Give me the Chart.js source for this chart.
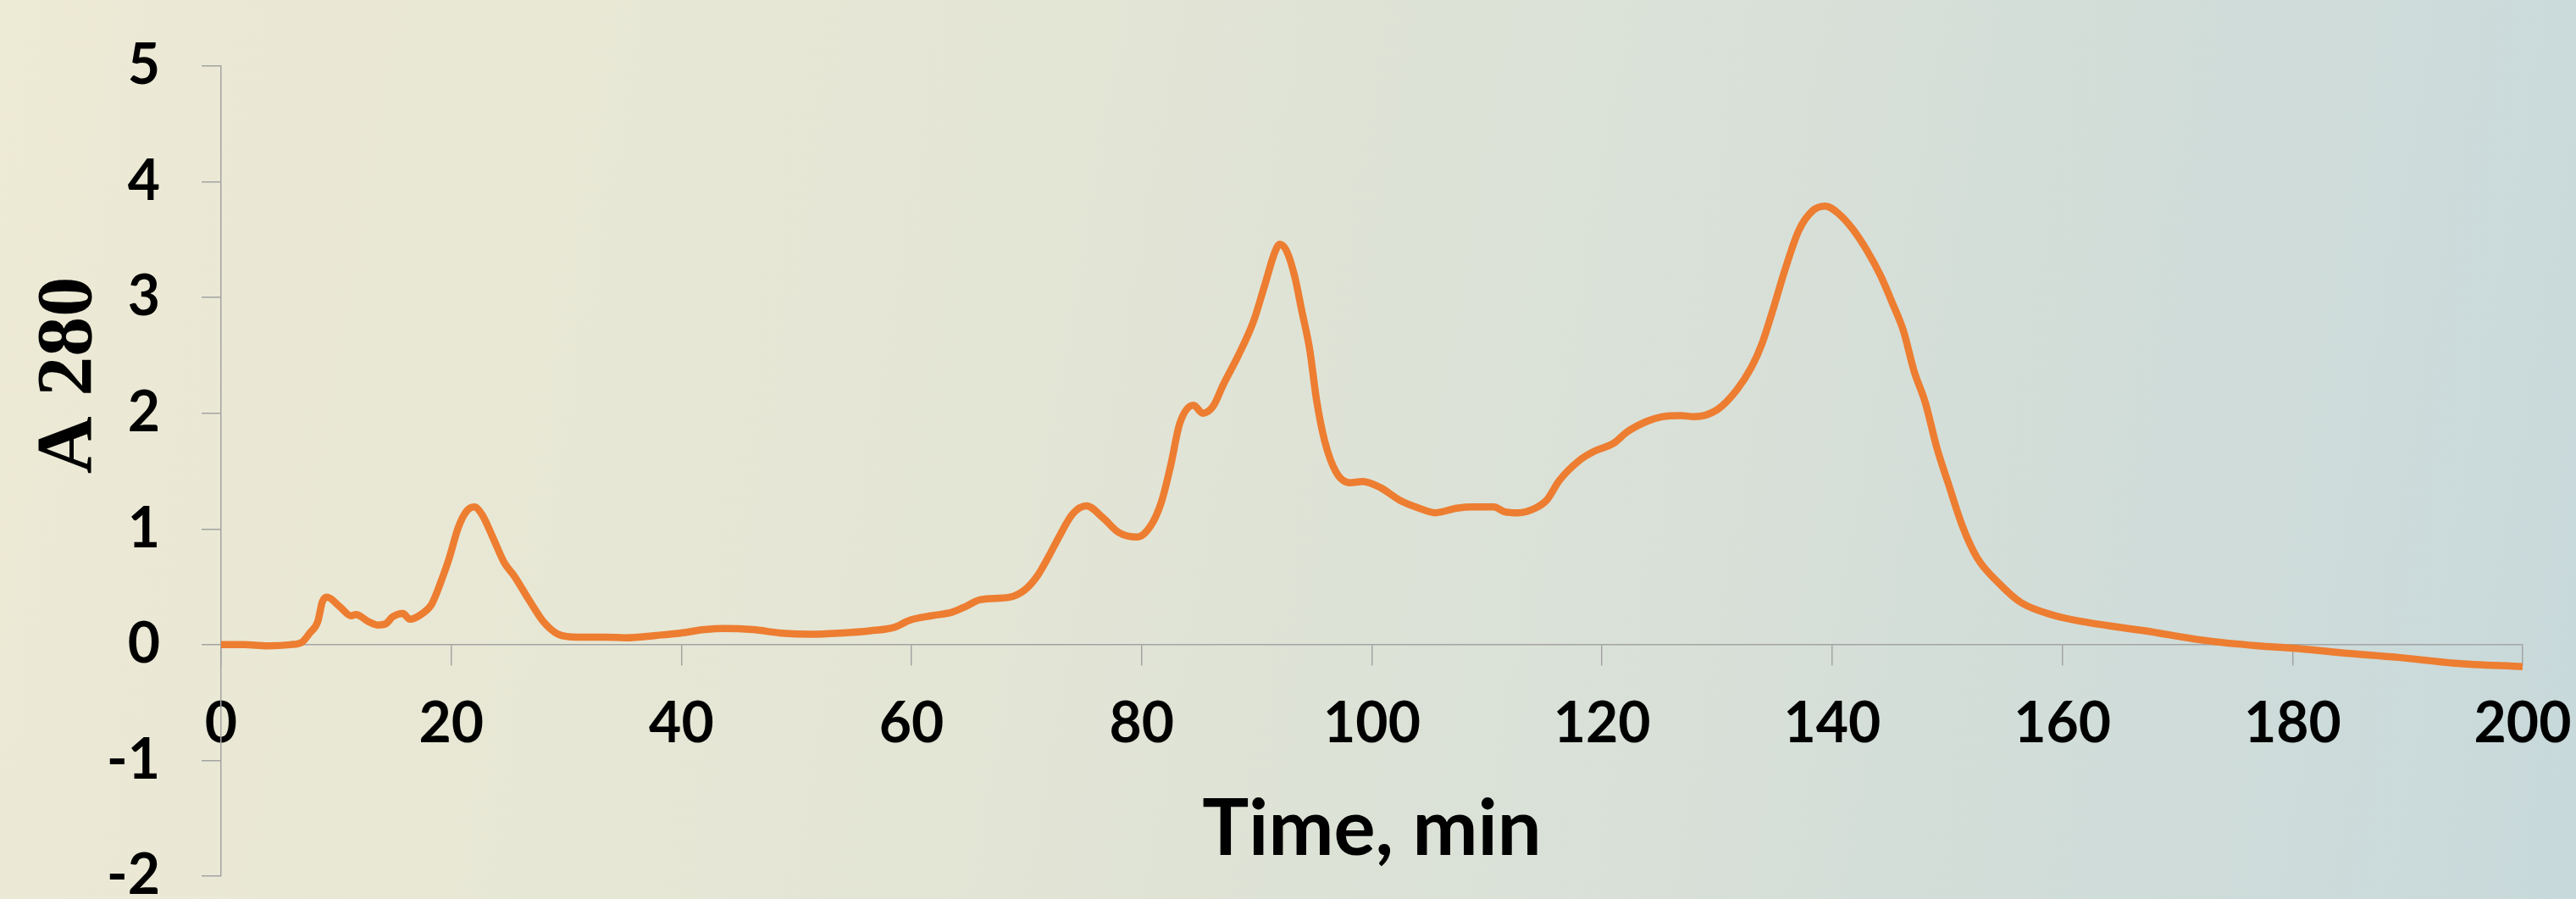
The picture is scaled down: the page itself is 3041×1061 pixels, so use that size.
<!DOCTYPE html>
<html>
<head>
<meta charset="utf-8">
<script src="https://cdn.jsdelivr.net/npm/chart.js@4.4.1/dist/chart.umd.min.js"></script>
<style>
  html, body { margin: 0; padding: 0; }
  body {
    width: 3041px; height: 1061px; overflow: hidden;
    background: linear-gradient(100deg, #EDEAD5 0%, #E3E5D5 40%, #D6DFD8 70%, #C8D9DB 100%);
  }
  #wrap { width: 3041px; height: 1061px; }
</style>
</head>
<body>
<div id="wrap"><canvas id="c" width="3041" height="1061"></canvas></div>
<script>
// Elution profile: time (min) and absorbance at 280 nm
const times = [0, 2, 4, 6, 7, 7.7, 8.4, 8.8, 9.2, 10.3, 11.3, 11.7, 12.8, 13.6, 14.3, 14.9, 15.8, 16.4, 17.5, 18.3,
  19.2, 19.8, 20.6, 21.3, 22.0, 22.7, 23.6, 24.6, 25.5, 26.8, 28.0, 29.3, 31.0, 33.5, 35.2, 37.8, 39.9, 42.0, 43.7, 46.2,
  48.7, 51.3, 53.8, 56.4, 58.5, 59.8, 61.7, 63.5, 64.7, 66.0, 68.5, 69.8, 70.9, 71.9, 72.7, 74.0, 75.2, 76.6, 78.0, 79.6,
  80.8, 81.7, 82.5, 83.3, 84.5, 85.3, 86.2, 87.1, 88.4, 89.7, 90.7, 91.6, 92.0, 92.6, 93.3, 93.9, 94.6, 95.2, 95.9, 96.9,
  98.1, 99.2, 100.7, 102.4, 104.1, 105.5, 107.4, 108.9, 110.6, 111.5, 112.7, 114.2, 115.2, 116.3, 118.0, 119.3, 121.0, 122.2, 123.9, 125.2,
  126.9, 128.0, 130.0, 131.7, 133.0, 133.9, 134.9, 135.9, 137.1, 138.3, 139.4, 140.5, 141.8, 143.0, 144.2, 145.2, 146.2, 147.1, 148.1, 149.1,
  150.1, 151.3, 152.6, 154.5, 156.4, 159.2, 162.3, 167.2, 172.1, 177.0, 180.1, 184.3, 189.2, 194.1, 200];
const absorbance = [0, 0, -0.01, 0, 0.02, 0.10, 0.20, 0.37, 0.41, 0.33, 0.25, 0.26, 0.20, 0.17, 0.18, 0.24, 0.27, 0.22, 0.27, 0.35,
  0.57, 0.74, 1.01, 1.15, 1.19, 1.12, 0.93, 0.71, 0.59, 0.38, 0.20, 0.09, 0.065, 0.065, 0.06, 0.08, 0.10, 0.13, 0.14, 0.13,
  0.10, 0.09, 0.10, 0.12, 0.15, 0.21, 0.25, 0.28, 0.33, 0.39, 0.41, 0.47, 0.59, 0.76, 0.91, 1.13, 1.20, 1.10, 0.97, 0.93,
  1.03, 1.23, 1.54, 1.91, 2.07, 2.00, 2.06, 2.25, 2.50, 2.79, 3.11, 3.40, 3.46, 3.40, 3.18, 2.89, 2.55, 2.11, 1.76, 1.49,
  1.40, 1.41, 1.36, 1.25, 1.18, 1.14, 1.18, 1.19, 1.19, 1.15, 1.14, 1.18, 1.25, 1.42, 1.59, 1.67, 1.74, 1.84, 1.93, 1.97,
  1.98, 1.97, 2.03, 2.20, 2.40, 2.60, 2.91, 3.24, 3.58, 3.75, 3.79, 3.73, 3.59, 3.41, 3.19, 2.96, 2.71, 2.37, 2.09, 1.70,
  1.39, 1.03, 0.75, 0.53, 0.365, 0.255, 0.19, 0.12, 0.04, -0.01, -0.03, -0.07, -0.11, -0.16, -0.19];
const xTicks = [0, 20, 40, 60, 80, 100, 120, 140, 160, 180, 200];
const yTicks = [-2, -1, 0, 1, 2, 3, 4, 5];
const xTitle = 'Time, min';
const yTitle = 'A 280';

const points = times.map((t, i) => ({ x: t, y: absorbance[i] }));
const axisGray = '#A3A3A3';
const tickFont = { family: 'Lato', weight: 'bold', size: 66 };

const yTitlePlugin = {
  id: 'yTitle',
  afterDraw(chart) {
    const ctx = chart.ctx;
    ctx.save();
    ctx.font = 'bold 94px "Liberation Serif"';
    ctx.fillStyle = '#000';
    ctx.textAlign = 'center';
    ctx.textBaseline = 'alphabetic';
    ctx.translate(107, 443);
    ctx.rotate(-Math.PI / 2);
    ctx.fillText(yTitle, 0, 0);
    ctx.restore();
  }
};

function zeroPad(scale) {
  scale.paddingLeft = 0; scale.paddingRight = 0;
  scale.paddingTop = 0; scale.paddingBottom = 0;
}

function build() {
  new Chart(document.getElementById('c'), {
    type: 'line',
    data: {
      datasets: [{
        data: points,
        borderColor: '#ED7D31',
        borderWidth: 8.5,
        pointRadius: 0,
        fill: false,
        cubicInterpolationMode: 'monotone'
      }]
    },
    options: {
      responsive: false,
      animation: false,
      devicePixelRatio: 1,
      layout: { padding: { left: 0, right: 63, top: 78, bottom: 27 } },
      plugins: { legend: { display: false }, tooltip: { enabled: false } },
      scales: {
        x: {
          type: 'linear',
          position: { y: 0 },
          min: 0, max: 200,
          afterFit: zeroPad,
          afterBuildTicks(s) { s.ticks = xTicks.map(v => ({ value: v })); },
          grid: { drawOnChartArea: false, drawTicks: true, tickLength: 24, color: axisGray, lineWidth: 1.5 },
          border: { display: true, color: axisGray, width: 1.5 },
          ticks: { font: tickFont, color: '#000', padding: 30, maxRotation: 0, autoSkip: false },
          title: { display: true, text: xTitle, color: '#000',
                   font: { family: 'Lato', weight: 'bold', size: 92 }, padding: { top: 0, bottom: 0 } }
        },
        y: {
          type: 'linear',
          position: 'left',
          min: -2, max: 5,
          afterFit(s) { zeroPad(s); s.width = 261; },
          afterBuildTicks(s) { s.ticks = yTicks.map(v => ({ value: v })); },
          grid: { drawOnChartArea: false, drawTicks: true, tickLength: 23, color: axisGray, lineWidth: 1.5 },
          border: { display: true, color: axisGray, width: 1.5 },
          ticks: { font: tickFont, color: '#000', padding: 49 }
        }
      }
    },
    plugins: [yTitlePlugin]
  });
}

Promise.all([
  document.fonts.load('bold 66px Lato'),
  document.fonts.load('bold 94px "Liberation Serif"')
]).then(build, build);
</script>
</body>
</html>
